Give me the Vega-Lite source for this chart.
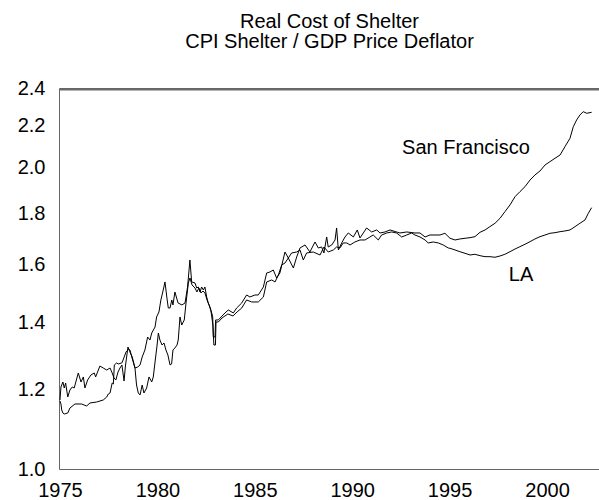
{
  "$schema": "https://vega.github.io/schema/vega-lite/v6.json",
  "autosize": {"type": "none"},
  "padding": {"left": 59, "top": 88, "right": 0, "bottom": 31},
  "width": 541,
  "height": 381,
  "background": "white",
  "title": {
    "text": ["Real Cost of Shelter", "CPI Shelter / GDP Price Deflator"],
    "font": "Liberation Sans",
    "fontSize": 20,
    "fontWeight": "normal",
    "color": "black",
    "anchor": "middle",
    "lineHeight": 20,
    "offset": 26
  },
  "config": {
    "view": {"stroke": "#666666", "strokeWidth": 1},
    "font": "Liberation Sans"
  },
  "layer": [
    {
      "data": {"values": [{"top": 2.391}]},
      "mark": {"type": "rule", "color": "#6a6a6a", "strokeWidth": 1.5},
      "encoding": {"y": {"field": "top", "type": "quantitative"}}
    },
    {
      "data": {
        "values": [
          {"city": "LA", "year": 1975.00, "value": 1.1718},
          {"city": "LA", "year": 1975.05, "value": 1.2074},
          {"city": "LA", "year": 1975.15, "value": 1.2213},
          {"city": "LA", "year": 1975.22, "value": 1.2046},
          {"city": "LA", "year": 1975.29, "value": 1.2185},
          {"city": "LA", "year": 1975.40, "value": 1.1799},
          {"city": "LA", "year": 1975.51, "value": 1.1990},
          {"city": "LA", "year": 1975.63, "value": 1.2074},
          {"city": "LA", "year": 1975.73, "value": 1.2046},
          {"city": "LA", "year": 1975.94, "value": 1.2469},
          {"city": "LA", "year": 1976.08, "value": 1.2213},
          {"city": "LA", "year": 1976.20, "value": 1.2355},
          {"city": "LA", "year": 1976.28, "value": 1.2046},
          {"city": "LA", "year": 1976.42, "value": 1.2270},
          {"city": "LA", "year": 1976.59, "value": 1.2412},
          {"city": "LA", "year": 1976.76, "value": 1.2469},
          {"city": "LA", "year": 1976.83, "value": 1.2355},
          {"city": "LA", "year": 1977.05, "value": 1.2670},
          {"city": "LA", "year": 1977.22, "value": 1.2612},
          {"city": "LA", "year": 1977.40, "value": 1.2554},
          {"city": "LA", "year": 1977.57, "value": 1.2612},
          {"city": "LA", "year": 1977.68, "value": 1.2469},
          {"city": "LA", "year": 1977.77, "value": 1.2326},
          {"city": "LA", "year": 1977.87, "value": 1.2270},
          {"city": "LA", "year": 1977.98, "value": 1.2497},
          {"city": "LA", "year": 1978.08, "value": 1.2612},
          {"city": "LA", "year": 1978.18, "value": 1.2700},
          {"city": "LA", "year": 1978.29, "value": 1.2241},
          {"city": "LA", "year": 1978.36, "value": 1.2670},
          {"city": "LA", "year": 1978.49, "value": 1.3236},
          {"city": "LA", "year": 1978.59, "value": 1.3085},
          {"city": "LA", "year": 1978.71, "value": 1.2935},
          {"city": "LA", "year": 1978.85, "value": 1.2612},
          {"city": "LA", "year": 1978.99, "value": 1.2641},
          {"city": "LA", "year": 1979.11, "value": 1.2700},
          {"city": "LA", "year": 1979.22, "value": 1.2935},
          {"city": "LA", "year": 1979.36, "value": 1.3145},
          {"city": "LA", "year": 1979.50, "value": 1.3543},
          {"city": "LA", "year": 1979.62, "value": 1.3450},
          {"city": "LA", "year": 1979.71, "value": 1.3668},
          {"city": "LA", "year": 1979.88, "value": 1.3858},
          {"city": "LA", "year": 1979.96, "value": 1.4181},
          {"city": "LA", "year": 1980.08, "value": 1.4345},
          {"city": "LA", "year": 1980.18, "value": 1.4746},
          {"city": "LA", "year": 1980.30, "value": 1.5088},
          {"city": "LA", "year": 1980.39, "value": 1.5369},
          {"city": "LA", "year": 1980.49, "value": 1.4814},
          {"city": "LA", "year": 1980.56, "value": 1.4477},
          {"city": "LA", "year": 1980.65, "value": 1.4477},
          {"city": "LA", "year": 1980.74, "value": 1.4746},
          {"city": "LA", "year": 1980.80, "value": 1.4578},
          {"city": "LA", "year": 1980.90, "value": 1.5019},
          {"city": "LA", "year": 1981.06, "value": 1.4645},
          {"city": "LA", "year": 1981.26, "value": 1.4578},
          {"city": "LA", "year": 1981.42, "value": 1.4645},
          {"city": "LA", "year": 1981.55, "value": 1.5193},
          {"city": "LA", "year": 1981.67, "value": 1.6165},
          {"city": "LA", "year": 1981.76, "value": 1.5369},
          {"city": "LA", "year": 1981.93, "value": 1.5334},
          {"city": "LA", "year": 1982.02, "value": 1.5158},
          {"city": "LA", "year": 1982.10, "value": 1.5193},
          {"city": "LA", "year": 1982.19, "value": 1.5019},
          {"city": "LA", "year": 1982.27, "value": 1.5193},
          {"city": "LA", "year": 1982.36, "value": 1.5088},
          {"city": "LA", "year": 1982.44, "value": 1.5193},
          {"city": "LA", "year": 1982.53, "value": 1.4848},
          {"city": "LA", "year": 1982.61, "value": 1.4645},
          {"city": "LA", "year": 1982.70, "value": 1.4511},
          {"city": "LA", "year": 1982.79, "value": 1.4312},
          {"city": "LA", "year": 1982.84, "value": 1.4181},
          {"city": "LA", "year": 1982.87, "value": 1.3543},
          {"city": "LA", "year": 1982.96, "value": 1.3543},
          {"city": "LA", "year": 1982.99, "value": 1.4084},
          {"city": "LA", "year": 1983.13, "value": 1.4084},
          {"city": "LA", "year": 1983.32, "value": 1.4214},
          {"city": "LA", "year": 1983.47, "value": 1.4312},
          {"city": "LA", "year": 1983.64, "value": 1.4411},
          {"city": "LA", "year": 1983.90, "value": 1.4312},
          {"city": "LA", "year": 1984.07, "value": 1.4477},
          {"city": "LA", "year": 1984.33, "value": 1.4645},
          {"city": "LA", "year": 1984.58, "value": 1.4916},
          {"city": "LA", "year": 1984.75, "value": 1.4848},
          {"city": "LA", "year": 1985.01, "value": 1.4916},
          {"city": "LA", "year": 1985.18, "value": 1.4916},
          {"city": "LA", "year": 1985.44, "value": 1.5193},
          {"city": "LA", "year": 1985.61, "value": 1.5690},
          {"city": "LA", "year": 1985.78, "value": 1.5726},
          {"city": "LA", "year": 1985.95, "value": 1.5798},
          {"city": "LA", "year": 1986.12, "value": 1.5511},
          {"city": "LA", "year": 1986.29, "value": 1.5690},
          {"city": "LA", "year": 1986.55, "value": 1.6465},
          {"city": "LA", "year": 1986.72, "value": 1.6239},
          {"city": "LA", "year": 1986.89, "value": 1.6427},
          {"city": "LA", "year": 1987.15, "value": 1.6465},
          {"city": "LA", "year": 1987.32, "value": 1.6541},
          {"city": "LA", "year": 1987.49, "value": 1.6165},
          {"city": "LA", "year": 1987.66, "value": 1.6427},
          {"city": "LA", "year": 1988.00, "value": 1.6465},
          {"city": "LA", "year": 1988.35, "value": 1.6352},
          {"city": "LA", "year": 1988.55, "value": 1.6656},
          {"city": "LA", "year": 1988.77, "value": 1.6465},
          {"city": "LA", "year": 1989.03, "value": 1.6541},
          {"city": "LA", "year": 1989.20, "value": 1.6656},
          {"city": "LA", "year": 1989.37, "value": 1.6617},
          {"city": "LA", "year": 1989.54, "value": 1.6810},
          {"city": "LA", "year": 1989.72, "value": 1.6810},
          {"city": "LA", "year": 1989.89, "value": 1.6733},
          {"city": "LA", "year": 1990.14, "value": 1.6849},
          {"city": "LA", "year": 1990.40, "value": 1.6926},
          {"city": "LA", "year": 1990.66, "value": 1.6926},
          {"city": "LA", "year": 1990.91, "value": 1.7043},
          {"city": "LA", "year": 1991.08, "value": 1.7121},
          {"city": "LA", "year": 1991.34, "value": 1.6926},
          {"city": "LA", "year": 1991.51, "value": 1.7121},
          {"city": "LA", "year": 1991.77, "value": 1.7200},
          {"city": "LA", "year": 1992.03, "value": 1.7240},
          {"city": "LA", "year": 1992.28, "value": 1.7200},
          {"city": "LA", "year": 1992.54, "value": 1.7043},
          {"city": "LA", "year": 1992.80, "value": 1.7121},
          {"city": "LA", "year": 1993.05, "value": 1.7200},
          {"city": "LA", "year": 1993.22, "value": 1.7121},
          {"city": "LA", "year": 1993.48, "value": 1.7043},
          {"city": "LA", "year": 1993.74, "value": 1.6926},
          {"city": "LA", "year": 1993.90, "value": 1.6810},
          {"city": "LA", "year": 1994.16, "value": 1.6849},
          {"city": "LA", "year": 1994.42, "value": 1.6810},
          {"city": "LA", "year": 1994.67, "value": 1.6733},
          {"city": "LA", "year": 1994.93, "value": 1.6617},
          {"city": "LA", "year": 1995.02, "value": 1.6606},
          {"city": "LA", "year": 1995.28, "value": 1.6541},
          {"city": "LA", "year": 1995.53, "value": 1.6476},
          {"city": "LA", "year": 1995.79, "value": 1.6416},
          {"city": "LA", "year": 1996.05, "value": 1.6352},
          {"city": "LA", "year": 1996.30, "value": 1.6379},
          {"city": "LA", "year": 1996.56, "value": 1.6326},
          {"city": "LA", "year": 1996.82, "value": 1.6289},
          {"city": "LA", "year": 1997.07, "value": 1.6289},
          {"city": "LA", "year": 1997.33, "value": 1.6267},
          {"city": "LA", "year": 1997.59, "value": 1.6315},
          {"city": "LA", "year": 1997.84, "value": 1.6379},
          {"city": "LA", "year": 1998.10, "value": 1.6476},
          {"city": "LA", "year": 1998.36, "value": 1.6579},
          {"city": "LA", "year": 1998.61, "value": 1.6667},
          {"city": "LA", "year": 1998.87, "value": 1.6760},
          {"city": "LA", "year": 1999.13, "value": 1.6861},
          {"city": "LA", "year": 1999.38, "value": 1.6965},
          {"city": "LA", "year": 1999.64, "value": 1.7055},
          {"city": "LA", "year": 1999.90, "value": 1.7121},
          {"city": "LA", "year": 2000.15, "value": 1.7188},
          {"city": "LA", "year": 2000.41, "value": 1.7212},
          {"city": "LA", "year": 2000.67, "value": 1.7252},
          {"city": "LA", "year": 2000.92, "value": 1.7280},
          {"city": "LA", "year": 2001.18, "value": 1.7320},
          {"city": "LA", "year": 2001.44, "value": 1.7452},
          {"city": "LA", "year": 2001.69, "value": 1.7588},
          {"city": "LA", "year": 2001.95, "value": 1.7722},
          {"city": "LA", "year": 2002.12, "value": 1.7997},
          {"city": "LA", "year": 2002.29, "value": 1.8230},
          {"city": "San Francisco", "year": 1975.00, "value": 1.1691},
          {"city": "San Francisco", "year": 1975.05, "value": 1.1611},
          {"city": "San Francisco", "year": 1975.09, "value": 1.1452},
          {"city": "San Francisco", "year": 1975.15, "value": 1.1373},
          {"city": "San Francisco", "year": 1975.22, "value": 1.1347},
          {"city": "San Francisco", "year": 1975.40, "value": 1.1373},
          {"city": "San Francisco", "year": 1975.51, "value": 1.1504},
          {"city": "San Francisco", "year": 1975.77, "value": 1.1611},
          {"city": "San Francisco", "year": 1976.11, "value": 1.1611},
          {"city": "San Francisco", "year": 1976.37, "value": 1.1558},
          {"city": "San Francisco", "year": 1976.54, "value": 1.1638},
          {"city": "San Francisco", "year": 1976.88, "value": 1.1664},
          {"city": "San Francisco", "year": 1977.22, "value": 1.1718},
          {"city": "San Francisco", "year": 1977.40, "value": 1.1799},
          {"city": "San Francisco", "year": 1977.48, "value": 1.1881},
          {"city": "San Francisco", "year": 1977.57, "value": 1.1908},
          {"city": "San Francisco", "year": 1977.68, "value": 1.2185},
          {"city": "San Francisco", "year": 1977.74, "value": 1.2157},
          {"city": "San Francisco", "year": 1977.79, "value": 1.2700},
          {"city": "San Francisco", "year": 1977.91, "value": 1.2758},
          {"city": "San Francisco", "year": 1977.99, "value": 1.2729},
          {"city": "San Francisco", "year": 1978.17, "value": 1.2758},
          {"city": "San Francisco", "year": 1978.22, "value": 1.2817},
          {"city": "San Francisco", "year": 1978.39, "value": 1.3085},
          {"city": "San Francisco", "year": 1978.53, "value": 1.3175},
          {"city": "San Francisco", "year": 1978.59, "value": 1.3145},
          {"city": "San Francisco", "year": 1978.70, "value": 1.2906},
          {"city": "San Francisco", "year": 1978.85, "value": 1.2612},
          {"city": "San Francisco", "year": 1978.93, "value": 1.2129},
          {"city": "San Francisco", "year": 1979.02, "value": 1.1908},
          {"city": "San Francisco", "year": 1979.11, "value": 1.1854},
          {"city": "San Francisco", "year": 1979.22, "value": 1.2129},
          {"city": "San Francisco", "year": 1979.31, "value": 1.1908},
          {"city": "San Francisco", "year": 1979.45, "value": 1.2046},
          {"city": "San Francisco", "year": 1979.57, "value": 1.2355},
          {"city": "San Francisco", "year": 1979.71, "value": 1.2213},
          {"city": "San Francisco", "year": 1979.79, "value": 1.2355},
          {"city": "San Francisco", "year": 1979.88, "value": 1.2787},
          {"city": "San Francisco", "year": 1979.98, "value": 1.3266},
          {"city": "San Francisco", "year": 1980.05, "value": 1.3668},
          {"city": "San Francisco", "year": 1980.13, "value": 1.3450},
          {"city": "San Francisco", "year": 1980.24, "value": 1.3296},
          {"city": "San Francisco", "year": 1980.34, "value": 1.3358},
          {"city": "San Francisco", "year": 1980.44, "value": 1.3145},
          {"city": "San Francisco", "year": 1980.54, "value": 1.2995},
          {"city": "San Francisco", "year": 1980.65, "value": 1.2700},
          {"city": "San Francisco", "year": 1980.73, "value": 1.2729},
          {"city": "San Francisco", "year": 1980.80, "value": 1.3145},
          {"city": "San Francisco", "year": 1980.90, "value": 1.3206},
          {"city": "San Francisco", "year": 1981.01, "value": 1.3296},
          {"city": "San Francisco", "year": 1981.07, "value": 1.3450},
          {"city": "San Francisco", "year": 1981.11, "value": 1.3763},
          {"city": "San Francisco", "year": 1981.16, "value": 1.4181},
          {"city": "San Francisco", "year": 1981.25, "value": 1.3922},
          {"city": "San Francisco", "year": 1981.38, "value": 1.4084},
          {"city": "San Francisco", "year": 1981.47, "value": 1.4645},
          {"city": "San Francisco", "year": 1981.59, "value": 1.5334},
          {"city": "San Francisco", "year": 1981.67, "value": 1.5511},
          {"city": "San Francisco", "year": 1981.78, "value": 1.5263},
          {"city": "San Francisco", "year": 1981.93, "value": 1.5158},
          {"city": "San Francisco", "year": 1982.03, "value": 1.5019},
          {"city": "San Francisco", "year": 1982.13, "value": 1.5158},
          {"city": "San Francisco", "year": 1982.24, "value": 1.4985},
          {"city": "San Francisco", "year": 1982.34, "value": 1.5054},
          {"city": "San Francisco", "year": 1982.44, "value": 1.4985},
          {"city": "San Francisco", "year": 1982.55, "value": 1.4746},
          {"city": "San Francisco", "year": 1982.65, "value": 1.4578},
          {"city": "San Francisco", "year": 1982.75, "value": 1.4378},
          {"city": "San Francisco", "year": 1982.85, "value": 1.3922},
          {"city": "San Francisco", "year": 1982.90, "value": 1.3296},
          {"city": "San Francisco", "year": 1982.98, "value": 1.3296},
          {"city": "San Francisco", "year": 1983.01, "value": 1.4019},
          {"city": "San Francisco", "year": 1983.13, "value": 1.4019},
          {"city": "San Francisco", "year": 1983.32, "value": 1.4149},
          {"city": "San Francisco", "year": 1983.47, "value": 1.4214},
          {"city": "San Francisco", "year": 1983.62, "value": 1.4279},
          {"city": "San Francisco", "year": 1983.88, "value": 1.4214},
          {"city": "San Francisco", "year": 1984.09, "value": 1.4345},
          {"city": "San Francisco", "year": 1984.33, "value": 1.4477},
          {"city": "San Francisco", "year": 1984.58, "value": 1.4746},
          {"city": "San Francisco", "year": 1984.84, "value": 1.4679},
          {"city": "San Francisco", "year": 1985.18, "value": 1.4679},
          {"city": "San Francisco", "year": 1985.44, "value": 1.4848},
          {"city": "San Francisco", "year": 1985.61, "value": 1.5369},
          {"city": "San Francisco", "year": 1985.87, "value": 1.5440},
          {"city": "San Francisco", "year": 1986.04, "value": 1.5369},
          {"city": "San Francisco", "year": 1986.21, "value": 1.5618},
          {"city": "San Francisco", "year": 1986.38, "value": 1.5980},
          {"city": "San Francisco", "year": 1986.55, "value": 1.6054},
          {"city": "San Francisco", "year": 1986.72, "value": 1.6239},
          {"city": "San Francisco", "year": 1986.98, "value": 1.5870},
          {"city": "San Francisco", "year": 1987.15, "value": 1.6277},
          {"city": "San Francisco", "year": 1987.32, "value": 1.6617},
          {"city": "San Francisco", "year": 1987.58, "value": 1.6733},
          {"city": "San Francisco", "year": 1987.83, "value": 1.6465},
          {"city": "San Francisco", "year": 1988.09, "value": 1.6849},
          {"city": "San Francisco", "year": 1988.26, "value": 1.6617},
          {"city": "San Francisco", "year": 1988.43, "value": 1.6656},
          {"city": "San Francisco", "year": 1988.55, "value": 1.6427},
          {"city": "San Francisco", "year": 1988.69, "value": 1.7043},
          {"city": "San Francisco", "year": 1988.77, "value": 1.6656},
          {"city": "San Francisco", "year": 1988.95, "value": 1.6733},
          {"city": "San Francisco", "year": 1989.12, "value": 1.6926},
          {"city": "San Francisco", "year": 1989.20, "value": 1.7399},
          {"city": "San Francisco", "year": 1989.29, "value": 1.6541},
          {"city": "San Francisco", "year": 1989.46, "value": 1.6810},
          {"city": "San Francisco", "year": 1989.63, "value": 1.7043},
          {"city": "San Francisco", "year": 1989.80, "value": 1.7200},
          {"city": "San Francisco", "year": 1990.06, "value": 1.7043},
          {"city": "San Francisco", "year": 1990.26, "value": 1.7320},
          {"city": "San Francisco", "year": 1990.40, "value": 1.7004},
          {"city": "San Francisco", "year": 1990.57, "value": 1.7200},
          {"city": "San Francisco", "year": 1990.74, "value": 1.7399},
          {"city": "San Francisco", "year": 1991.00, "value": 1.7240},
          {"city": "San Francisco", "year": 1991.26, "value": 1.7320},
          {"city": "San Francisco", "year": 1991.43, "value": 1.7200},
          {"city": "San Francisco", "year": 1991.68, "value": 1.7240},
          {"city": "San Francisco", "year": 1991.94, "value": 1.7320},
          {"city": "San Francisco", "year": 1992.28, "value": 1.7240},
          {"city": "San Francisco", "year": 1992.45, "value": 1.7200},
          {"city": "San Francisco", "year": 1992.80, "value": 1.7240},
          {"city": "San Francisco", "year": 1993.22, "value": 1.7200},
          {"city": "San Francisco", "year": 1993.48, "value": 1.7200},
          {"city": "San Francisco", "year": 1993.74, "value": 1.7043},
          {"city": "San Francisco", "year": 1993.99, "value": 1.7121},
          {"city": "San Francisco", "year": 1994.25, "value": 1.7121},
          {"city": "San Francisco", "year": 1994.51, "value": 1.7121},
          {"city": "San Francisco", "year": 1994.76, "value": 1.7188},
          {"city": "San Francisco", "year": 1995.02, "value": 1.6992},
          {"city": "San Francisco", "year": 1995.28, "value": 1.6926},
          {"city": "San Francisco", "year": 1995.53, "value": 1.6965},
          {"city": "San Francisco", "year": 1995.79, "value": 1.6992},
          {"city": "San Francisco", "year": 1996.05, "value": 1.7016},
          {"city": "San Francisco", "year": 1996.30, "value": 1.7055},
          {"city": "San Francisco", "year": 1996.56, "value": 1.7227},
          {"city": "San Francisco", "year": 1996.82, "value": 1.7320},
          {"city": "San Francisco", "year": 1997.07, "value": 1.7452},
          {"city": "San Francisco", "year": 1997.33, "value": 1.7588},
          {"city": "San Francisco", "year": 1997.59, "value": 1.7791},
          {"city": "San Francisco", "year": 1997.84, "value": 1.8063},
          {"city": "San Francisco", "year": 1998.10, "value": 1.8343},
          {"city": "San Francisco", "year": 1998.36, "value": 1.8697},
          {"city": "San Francisco", "year": 1998.61, "value": 1.8913},
          {"city": "San Francisco", "year": 1998.87, "value": 1.9131},
          {"city": "San Francisco", "year": 1999.13, "value": 1.9427},
          {"city": "San Francisco", "year": 1999.38, "value": 1.9652},
          {"city": "San Francisco", "year": 1999.64, "value": 1.9834},
          {"city": "San Francisco", "year": 1999.90, "value": 2.0109},
          {"city": "San Francisco", "year": 2000.15, "value": 2.0262},
          {"city": "San Francisco", "year": 2000.41, "value": 2.0421},
          {"city": "San Francisco", "year": 2000.67, "value": 2.0576},
          {"city": "San Francisco", "year": 2000.92, "value": 2.0972},
          {"city": "San Francisco", "year": 2001.18, "value": 2.1381},
          {"city": "San Francisco", "year": 2001.35, "value": 2.1958},
          {"city": "San Francisco", "year": 2001.52, "value": 2.2299},
          {"city": "San Francisco", "year": 2001.69, "value": 2.2557},
          {"city": "San Francisco", "year": 2001.86, "value": 2.2729},
          {"city": "San Francisco", "year": 2002.04, "value": 2.2645},
          {"city": "San Francisco", "year": 2002.29, "value": 2.2697}
        ]
      },
      "mark": {"type": "line", "color": "black", "strokeWidth": 1, "clip": true},
      "encoding": {
        "x": {
          "field": "year",
          "type": "quantitative",
          "scale": {"domain": [1974.95, 2002.72], "nice": false, "zero": false},
          "axis": {
            "title": null,
            "values": [1975, 1980, 1985, 1990, 1995, 2000],
            "format": "d",
            "grid": false,
            "ticks": false,
            "domain": false,
            "labelFlush": false,
            "labelFont": "Liberation Sans",
            "labelFontSize": 20,
            "labelColor": "black",
            "labelPadding": 11
          }
        },
        "y": {
          "field": "value",
          "type": "quantitative",
          "scale": {"type": "log", "domain": [1.0, 2.4], "nice": false, "zero": false},
          "axis": {
            "title": null,
            "values": [1.0, 1.2, 1.4, 1.6, 1.8, 2.0, 2.2, 2.4],
            "format": ".1f",
            "grid": false,
            "ticks": false,
            "domain": false,
            "labelFont": "Liberation Sans",
            "labelFontSize": 20,
            "labelColor": "black",
            "labelPadding": 14,
            "labelOverlap": false
          }
        },
        "detail": {"field": "city", "type": "nominal"}
      }
    },
    {
      "data": {
        "values": [
          {"label": "San Francisco", "year": 1995.84, "value": 2.091},
          {"label": "LA", "year": 1998.67, "value": 1.562}
        ]
      },
      "mark": {"type": "text", "font": "Liberation Sans", "fontSize": 20, "color": "black", "align": "center", "baseline": "middle"},
      "encoding": {
        "x": {"field": "year", "type": "quantitative"},
        "y": {"field": "value", "type": "quantitative"},
        "text": {"field": "label", "type": "nominal"}
      }
    }
  ]
}
